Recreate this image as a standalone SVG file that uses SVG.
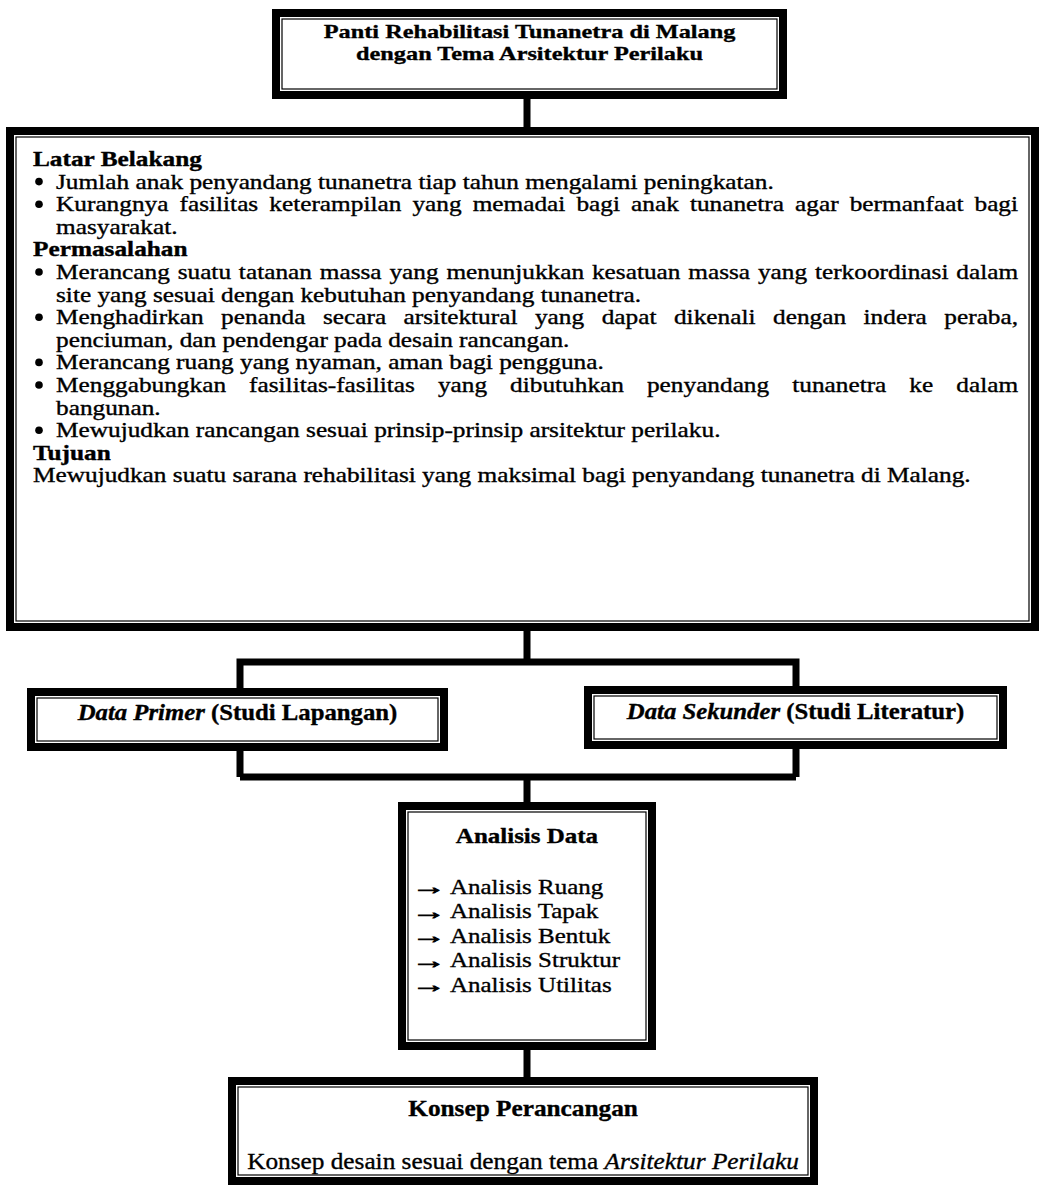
<svg xmlns="http://www.w3.org/2000/svg" width="1040" height="1186" viewBox="0 0 1040 1186">
<style>
.outer{fill:#fff;stroke:#000;stroke-width:8}
.inner{fill:none;stroke:#000;stroke-width:1.2}
.conn{fill:none;stroke:#000;stroke-width:7;stroke-linejoin:miter}
.dot{fill:#000}
text{font-family:"Liberation Serif","Times New Roman",serif;font-size:20px;fill:#000;stroke:#000;stroke-width:0.35}
.b{font-weight:bold}
.c{text-anchor:middle}
.t{font-size:19.5px}
.d{font-size:22.5px}
.a{font-size:22px}
.k{font-size:23px}
.arr{font-size:22px;stroke-width:0.9}
</style>
<rect width="1040" height="1186" fill="#fff"/>
<g id="connectors">
<path class="conn" d="M527,97 V130"/>
<path class="conn" d="M527,628 V662 M240,690 V662 H796 V688"/>
<path class="conn" d="M240,749 V777 M796,747 V777 M240,777 H796 M527,777 V804"/>
<path class="conn" d="M527,1048 V1079"/>
</g>
<g id="judul">
<rect class="outer" x="276" y="13" width="507" height="82"/>
<rect class="inner" x="282" y="19" width="495" height="70"/>
<g transform="scale(1.246 1)">
<text class="b c t" x="425" y="38">Panti Rehabilitasi Tunanetra di Malang</text>
<text class="b c t" x="425" y="60">dengan Tema Arsitektur Perilaku</text>
</g>
</g>
<g id="latar">
<rect class="outer" x="10" y="131" width="1025" height="496"/>
<rect class="inner" x="16" y="137" width="1013" height="484"/>
<g>
<circle class="dot" cx="39" cy="181.6" r="3.8"/>
<circle class="dot" cx="39" cy="204.2" r="3.8"/>
<circle class="dot" cx="39" cy="272" r="3.8"/>
<circle class="dot" cx="39" cy="317.2" r="3.8"/>
<circle class="dot" cx="39" cy="362.4" r="3.8"/>
<circle class="dot" cx="39" cy="385" r="3.8"/>
<circle class="dot" cx="39" cy="430.2" r="3.8"/>
</g>
<g transform="scale(1.265 1)">
<text class="b" x="26.1" y="166">Latar Belakang</text>
<text x="44.3" y="188.6">Jumlah anak penyandang tunanetra tiap tahun mengalami peningkatan.</text>
<text x="44.3" y="211.2" word-spacing="3.74" textLength="760.5" lengthAdjust="spacing">Kurangnya fasilitas keterampilan yang memadai bagi anak tunanetra agar bermanfaat bagi</text>
<text x="44.3" y="233.8">masyarakat.</text>
<text class="b" x="26.1" y="256.4">Permasalahan</text>
<text x="44.3" y="279" word-spacing="1.18" textLength="760.5" lengthAdjust="spacing">Merancang suatu tatanan massa yang menunjukkan kesatuan massa yang terkoordinasi dalam</text>
<text x="44.3" y="301.6">site yang sesuai dengan kebutuhan penyandang tunanetra.</text>
<text x="44.3" y="324.2" word-spacing="8.84" textLength="760.5" lengthAdjust="spacing">Menghadirkan penanda secara arsitektural yang dapat dikenali dengan indera peraba,</text>
<text x="44.3" y="346.8">penciuman, dan pendengar pada desain rancangan.</text>
<text x="44.3" y="369.4">Merancang ruang yang nyaman, aman bagi pengguna.</text>
<text x="44.3" y="392" word-spacing="13.2" textLength="760.5" lengthAdjust="spacing">Menggabungkan fasilitas-fasilitas yang dibutuhkan penyandang tunanetra ke dalam</text>
<text x="44.3" y="414.6">bangunan.</text>
<text x="44.3" y="437.2">Mewujudkan rancangan sesuai prinsip-prinsip arsitektur perilaku.</text>
<text class="b" x="26.1" y="459.8">Tujuan</text>
<text x="26.1" y="482.4">Mewujudkan suatu sarana rehabilitasi yang maksimal bagi penyandang tunanetra di Malang.</text>
</g>
</g>
<g id="primer">
<rect class="outer" x="31" y="692" width="413" height="55"/>
<rect class="inner" x="37" y="698" width="401" height="43"/>
<g transform="scale(1.1 1)">
<text class="b c d" x="215.9" y="720"><tspan font-style="italic">Data Primer</tspan> (Studi Lapangan)</text>
</g>
</g>
<g id="sekunder">
<rect class="outer" x="588" y="690" width="415" height="55"/>
<rect class="inner" x="594" y="696" width="403" height="43"/>
<g transform="scale(1.1 1)">
<text class="b c d" x="723.2" y="719"><tspan font-style="italic">Data Sekunder</tspan> (Studi Literatur)</text>
</g>
</g>
<g id="analisis">
<rect class="outer" x="402" y="806" width="250" height="240"/>
<rect class="inner" x="408" y="812" width="238" height="228"/>
<text class="arr" transform="translate(412 894) scale(1.55 1)">→</text>
<text class="arr" transform="translate(412 918.5) scale(1.55 1)">→</text>
<text class="arr" transform="translate(412 943) scale(1.55 1)">→</text>
<text class="arr" transform="translate(412 967.5) scale(1.55 1)">→</text>
<text class="arr" transform="translate(412 992) scale(1.55 1)">→</text>
<g transform="scale(1.136 1)">
<text class="b c a" x="463.9" y="843">Analisis Data</text>
<text class="a" x="396.1" y="894">Analisis Ruang</text>
<text class="a" x="396.1" y="918.5">Analisis Tapak</text>
<text class="a" x="396.1" y="943">Analisis Bentuk</text>
<text class="a" x="396.1" y="967.5">Analisis Struktur</text>
<text class="a" x="396.1" y="992">Analisis Utilitas</text>
</g>
</g>
<g id="konsep">
<rect class="outer" x="232" y="1081" width="582" height="100"/>
<rect class="inner" x="238" y="1087" width="570" height="88"/>
<g transform="scale(1.1 1)">
<text class="b c k" x="475.5" y="1116">Konsep Perancangan</text>
<text class="c k" x="475.5" y="1169">Konsep desain sesuai dengan tema <tspan font-style="italic">Arsitektur Perilaku</tspan></text>
</g>
</g>
</svg>
